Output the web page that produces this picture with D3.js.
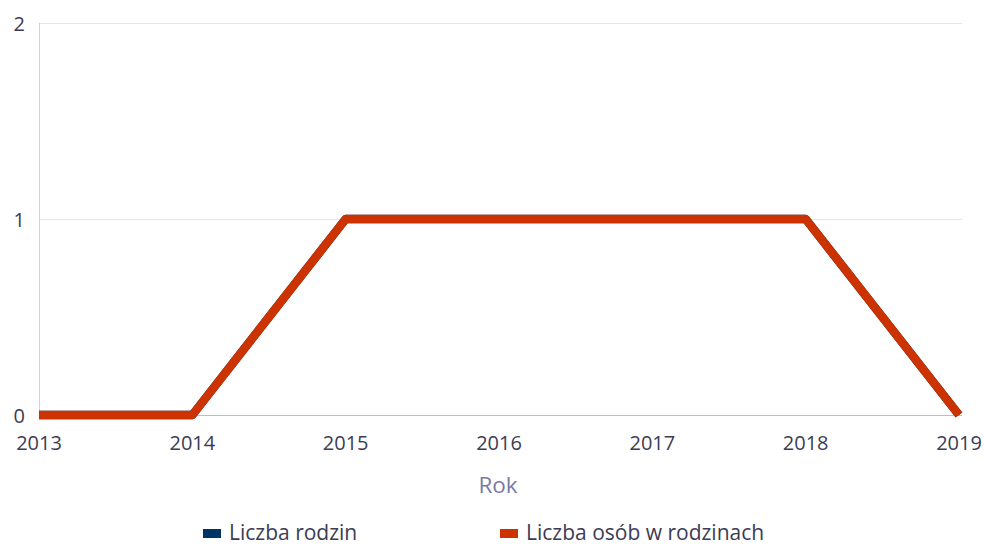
<!DOCTYPE html>
<html><head><meta charset="utf-8">
<script src="https://cdn.jsdelivr.net/npm/d3@7"></script>
<style>body{margin:0;background:#fff}svg{display:block;font-family:"Open Sans",sans-serif}</style>
</head><body>
<svg id="c" width="984" height="546"></svg>
<script>
const years = ["2013","2014","2015","2016","2017","2018","2019"];
const liczbaRodzin = [0,0,1,1,1,1,0];
const liczbaOsob = [0,0,1,1,1,1,0];
const yTicks = [0,1,2];
const seriesNames = ["Liczba rodzin","Liczba osób w rodzinach"];
const seriesColors = ["#003366","#cc3300"];

const svg = d3.select("#c");
const x = d3.scalePoint().domain(years).range([39,959]);
const y = d3.scaleLinear().domain([0,2]).range([415,23]);

// grid
svg.append("g").selectAll("line").data(yTicks.filter(d=>d>0)).join("line")
  .attr("x1",39).attr("x2",962).attr("y1",d=>y(d)+0.5).attr("y2",d=>y(d)+0.5)
  .attr("stroke","#e6e6e6").attr("stroke-width",1);
// y axis line
svg.append("line").attr("x1",39.5).attr("x2",39.5).attr("y1",23).attr("y2",415)
  .attr("stroke","#ccd0e0").attr("stroke-width",1);
// x axis line
svg.append("line").attr("x1",39).attr("x2",962).attr("y1",415.5).attr("y2",415.5)
  .attr("stroke","#b8bcd6").attr("stroke-width",1);

// y labels
svg.append("g").selectAll("text").data(yTicks).join("text")
  .attr("x",25).attr("y",d=>y(d)+8).attr("text-anchor","end")
  .attr("font-size",20).attr("fill","#3c3c54").text(d=>d);
// x labels
svg.append("g").selectAll("text").data(years).join("text")
  .attr("x",d=>x(d)).attr("y",450).attr("text-anchor","middle")
  .attr("font-size",20).attr("fill","#3c3c54").text(d=>d);
svg.append("text").attr("x",498).attr("y",493).attr("text-anchor","middle")
  .attr("font-size",22.5).attr("fill","#7a7aa6").text("Rok");

const line = d3.line().x((d,i)=>x(years[i])).y(d=>y(d));
[liczbaRodzin, liczbaOsob].forEach((s,k)=>{
  svg.append("path").datum(s).attr("d",line).attr("fill","none")
    .attr("stroke",seriesColors[k]).attr("stroke-width",8.5)
    .attr("stroke-linejoin","round").attr("stroke-linecap","butt");
});

// legend
const lx = [203,500];
seriesNames.forEach((n,k)=>{
  svg.append("rect").attr("x",lx[k]).attr("y",529).attr("width",18).attr("height",9)
    .attr("fill",seriesColors[k]);
  svg.append("text").attr("x",lx[k]+26).attr("y",540).attr("font-size",21)
    .attr("fill","#3c3c54").text(n);
});
</script>
</body></html>
